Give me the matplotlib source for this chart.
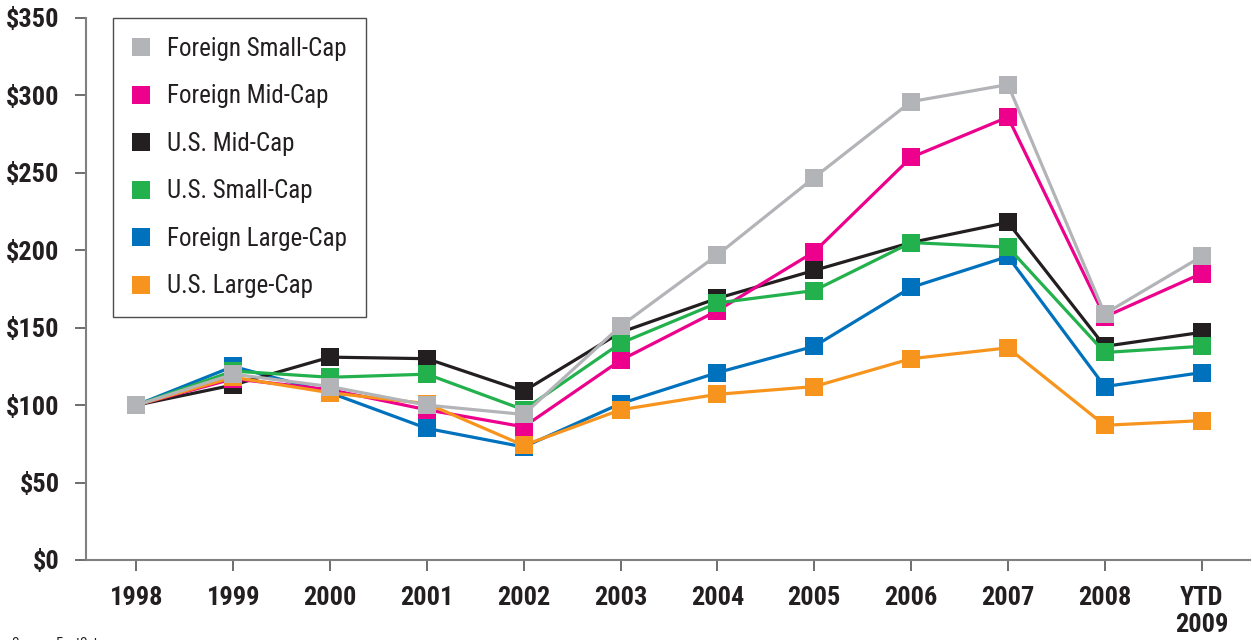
import matplotlib
matplotlib.use("Agg")
import matplotlib.pyplot as plt
from matplotlib import font_manager
from matplotlib.lines import Line2D

names = {f.name for f in font_manager.fontManager.ttflist}
FONT = "Liberation Sans"
for cand in ["Liberation Sans Narrow", "Roboto Condensed", "Liberation Sans"]:
    if cand in names:
        FONT = cand
        break
plt.rcParams['font.family'] = [FONT, 'DejaVu Sans']
narrow = FONT != "Liberation Sans"

categories = ["1998", "1999", "2000", "2001", "2002", "2003", "2004", "2005",
              "2006", "2007", "2008", "YTD\n2009"]

foreign_small = [100, 120, 112, 100, 94, 151, 197, 247, 296, 307, 159, 196]
foreign_mid   = [100, 117, 110, 97, 86, 129, 161, 199, 260, 286, 157, 185]
us_mid        = [100, 113, 131, 130, 109, 147, 169, 187, 205, 218, 138, 147]
us_small      = [100, 122, 118, 120, 97, 140, 166, 174, 205, 202, 134, 138]
foreign_large = [100, 125, 108, 85, 73, 101, 121, 138, 176, 196, 112, 121]
us_large      = [100, 118, 108, 101, 74, 97, 107, 112, 130, 137, 87, 90]

series = [
    ("Foreign Small-Cap", foreign_small, "#b3b4b8"),
    ("Foreign Mid-Cap", foreign_mid, "#ec008c"),
    ("U.S. Mid-Cap", us_mid, "#231f20"),
    ("U.S. Small-Cap", us_small, "#22b14c"),
    ("Foreign Large-Cap", foreign_large, "#0071bc"),
    ("U.S. Large-Cap", us_large, "#f7941d"),
]
zorders = {"Foreign Large-Cap": 2, "U.S. Mid-Cap": 3, "Foreign Mid-Cap": 4,
           "U.S. Large-Cap": 5, "U.S. Small-Cap": 6, "Foreign Small-Cap": 7}

fig = plt.figure(figsize=(12.52, 6.4), dpi=100)
ax = fig.add_axes([86/1252, 80/640, (1250-86)/1252, (560-18)/640])

x = list(range(len(categories)))
for name, vals, col in series:
    ax.plot(x, vals, color=col, lw=2.3, marker='s', markersize=13,
            markeredgewidth=0, label=name, zorder=zorders[name], clip_on=False)

ax.set_xlim(-0.52, 11.5)
ax.set_ylim(0, 350)
ax.set_yticks(range(0, 351, 50))
ax.set_yticklabels([f"${v}" for v in range(0, 351, 50)])
ax.set_xticks(x)
ax.set_xticklabels(categories, linespacing=1.15)

for s in ['top', 'right']:
    ax.spines[s].set_visible(False)
for s in ['left', 'bottom']:
    ax.spines[s].set_color('#808080')
    ax.spines[s].set_linewidth(1.5)

tick_size = 19 if narrow else 16.5
ax.tick_params(axis='y', length=8, width=1.2, color='#555555', pad=11,
               labelsize=tick_size, labelcolor='#231f20')
ax.tick_params(axis='x', length=8, width=1.2, color='#555555', pad=11,
               labelsize=tick_size, labelcolor='#231f20')
for lab in ax.get_xticklabels() + ax.get_yticklabels():
    lab.set_fontweight('bold')

leg_fs = 18 if narrow else 15
leg_handles = [Line2D([], [], color=c, marker='s', markersize=13, linestyle='None',
                      markeredgewidth=0) for _, _, c in series]
leg = ax.legend(leg_handles, [n for n, _, _ in series], loc='upper left',
                bbox_to_anchor=(27/1164, 1.0), frameon=True, fancybox=False,
                edgecolor='#231f20', fontsize=leg_fs,
                labelspacing=0.94, borderpad=0.75, handletextpad=0.67,
                handlelength=0.74, borderaxespad=0.0)
leg.get_frame().set_linewidth(1.0)
leg.set_zorder(10)
for t in leg.get_texts():
    t.set_color('#231f20')

fig.text(12/1252, -4/640, "Source: FactSet", fontsize=10, color='#231f20',
         ha='left', va='center')

fig.savefig("out.png", dpi=100)
